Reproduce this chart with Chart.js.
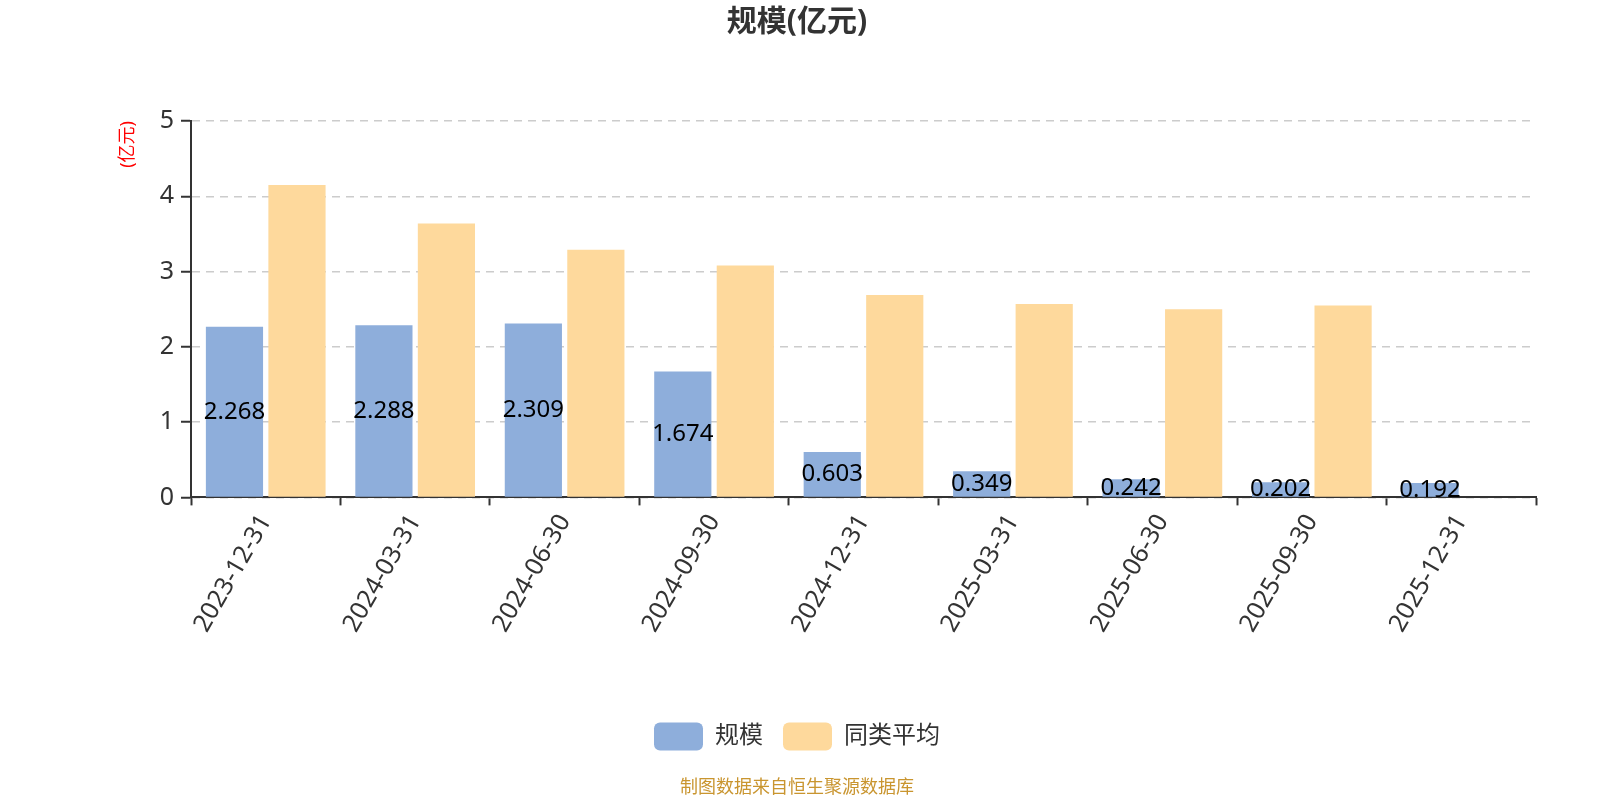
<!DOCTYPE html>
<html>
<head>
<meta charset="utf-8">
<script src="https://cdn.jsdelivr.net/npm/chart.js@4/dist/chart.umd.min.js"></script>
<style>
  html, body { margin: 0; padding: 0; background: #fff; }
  #wrap { width: 1600px; height: 800px; position: relative; }
</style>
</head>
<body>
<div id="wrap"><canvas id="myChart"></canvas></div>
<script>
const categories = ['2023-12-31', '2024-03-31', '2024-06-30', '2024-09-30', '2024-12-31',
    '2025-03-31', '2025-06-30', '2025-09-30', '2025-12-31'];
const scaleValues = [2.268, 2.288, 2.309, 1.674, 0.603, 0.349, 0.242, 0.202, 0.192];
const peerAverage = [4.15, 3.64, 3.29, 3.08, 2.69, 2.57, 2.50, 2.55, null];
const yTicks = [0, 1, 2, 3, 4, 5];

const FONT = '"Noto Sans", "Noto Sans CJK SC", sans-serif';

// value text in the middle of the blue bars
const barLabels = {
    id: 'barLabels',
    afterDatasetsDraw(chart) {
        const ctx = chart.ctx;
        const meta = chart.getDatasetMeta(0);
        ctx.save();
        ctx.font = '24px ' + FONT;
        ctx.fillStyle = '#000';
        ctx.textAlign = 'center';
        ctx.textBaseline = 'middle';
        meta.data.forEach((bar, i) => {
            const v = scaleValues[i];
            if (v === null) return;
            ctx.fillText(v.toFixed(3), bar.x, (bar.y + bar.base) / 2);
        });
        ctx.restore();
    }
};

const ctx = document.getElementById('myChart').getContext('2d');

// eslint-disable-next-line no-undef
const chart = new Chart(ctx, {
    type: 'bar',
    data: {
        labels: categories,
        datasets: [
            {
                label: '规模',
                data: scaleValues,
                backgroundColor: '#8eaedb',
                categoryPercentage: 0.8365,
                barPercentage: 0.915
            },
            {
                label: '同类平均',
                data: peerAverage,
                backgroundColor: '#fed99c',
                categoryPercentage: 0.8365,
                barPercentage: 0.915
            }
        ]
    },
    options: {
        responsive: true,
        maintainAspectRatio: false,
        animation: false,
        layout: { padding: { left: 58, right: 64, top: 0, bottom: 0 } },
        scales: {
            x: {
                offset: true,
                grid: {
                    offset: true,
                    drawOnChartArea: false,
                    drawTicks: true,
                    tickLength: 8,
                    tickColor: '#333',
                    tickWidth: 2
                },
                border: { color: '#333', width: 2 },
                ticks: {
                    color: '#333',
                    font: { family: FONT, size: 25 },
                    maxRotation: 60,
                    minRotation: 60,
                    padding: 4,
                    autoSkip: false
                },
                afterFit(scale) { scale.height = 205; }
            },
            y: {
                min: 0,
                max: 5,
                afterBuildTicks(scale) { scale.ticks = yTicks.map(v => ({ value: v })); },
                grid: {
                    color: '#cccccc',
                    lineWidth: 1.5,
                    drawTicks: true,
                    tickLength: 10,
                    tickColor: '#333',
                    tickWidth: 2,
                    tickBorderDash: []
                },
                border: { color: '#333', width: 2, dash: [8, 6] },
                ticks: {
                    color: '#333',
                    font: { family: FONT, size: 25 },
                    padding: 7
                },
                title: {
                    display: true,
                    text: '(亿元)',
                    color: '#ff0000',
                    align: 'end',
                    font: { family: FONT, size: 18 },
                    padding: { top: 59, bottom: 0 }
                },
                afterFit(scale) { scale.width = 133; }
            }
        },
        plugins: {
            title: {
                display: true,
                text: '规模(亿元)',
                color: '#333',
                font: { family: FONT, size: 30, weight: 'bold' },
                padding: { top: 4, bottom: 81 }
            },
            subtitle: {
                display: true,
                position: 'bottom',
                text: '制图数据来自恒生聚源数据库',
                color: '#c9952f',
                font: { family: FONT, size: 18 },
                padding: { top: 17, bottom: 1 }
            },
            legend: {
                position: 'bottom',
                labels: {
                    color: '#333',
                    font: { family: FONT, size: 24 },
                    boxWidth: 49,
                    boxHeight: 28,
                    useBorderRadius: true,
                    borderRadius: 6,
                    padding: 20
                }
            },
            tooltip: { enabled: false }
        }
    },
    plugins: [barLabels]
});
</script>
</body>
</html>
